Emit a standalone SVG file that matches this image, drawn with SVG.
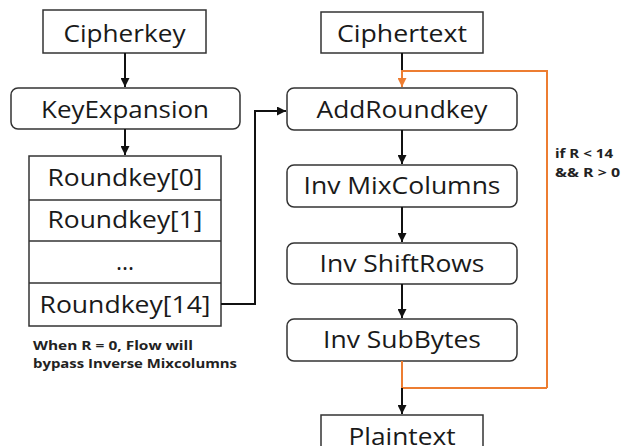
<svg xmlns="http://www.w3.org/2000/svg" width="621" height="446" viewBox="0 0 621 446">
<defs>
<marker id="ab" viewBox="0 0 10 10" refX="10" refY="5" markerWidth="4.5" markerHeight="4.5" orient="auto" markerUnits="strokeWidth"><path d="M0,0 L10,5 L0,10 z" fill="#111"/></marker>
<marker id="ao" viewBox="0 0 10 10" refX="10" refY="5" markerWidth="4.5" markerHeight="4.5" orient="auto" markerUnits="strokeWidth"><path d="M0,0 L10,5 L0,10 z" fill="#ED7D31"/></marker>
</defs>
<style>
.box{fill:#fff;stroke:#333;stroke-width:1.5}
.t{font-family:"Open Sans","Noto Sans",sans-serif;font-size:23px;fill:#1a1a1a;text-anchor:middle}
.b{font-family:"Open Sans","Noto Sans",sans-serif;font-size:13px;font-weight:bold;fill:#222}
.c{fill:none;stroke:#111;stroke-width:2}
.o{fill:none;stroke:#ED7D31;stroke-width:2}
</style>
<rect width="621" height="446" fill="#fff"/>
<g id="cipherkey"><rect class="box" x="43" y="10" width="163" height="43"/><text class="t" x="124.5" y="42" textLength="122" lengthAdjust="spacingAndGlyphs">Cipherkey</text></g>
<g id="keyexpansion"><rect class="box" x="11" y="88" width="229" height="41" rx="7"/><text class="t" x="125" y="118" textLength="168" lengthAdjust="spacingAndGlyphs">KeyExpansion</text></g>
<g id="roundkeys">
<rect class="box" x="29" y="156" width="192" height="170"/>
<line x1="29" y1="200" x2="221" y2="200" stroke="#333" stroke-width="1.5"/>
<line x1="29" y1="241" x2="221" y2="241" stroke="#333" stroke-width="1.5"/>
<line x1="29" y1="283" x2="221" y2="283" stroke="#333" stroke-width="1.5"/>
<text class="t" x="125" y="186" textLength="155" lengthAdjust="spacingAndGlyphs">Roundkey[0]</text>
<text class="t" x="125" y="228" textLength="155" lengthAdjust="spacingAndGlyphs">Roundkey[1]</text>
<text class="t" x="125" y="270">...</text>
<text class="t" x="125" y="313" textLength="171" lengthAdjust="spacingAndGlyphs">Roundkey[14]</text>
</g>
<g id="note"><text class="b" x="33" y="350" textLength="160" lengthAdjust="spacingAndGlyphs">When R = 0, Flow will</text><text class="b" x="33" y="368" textLength="204" lengthAdjust="spacingAndGlyphs">bypass Inverse Mixcolumns</text></g>
<g id="ciphertext"><rect class="box" x="321" y="12" width="162" height="41"/><text class="t" x="402" y="42" textLength="130" lengthAdjust="spacingAndGlyphs">Ciphertext</text></g>
<g id="addroundkey"><rect class="box" x="287" y="88" width="230" height="42" rx="7"/><text class="t" x="402" y="118" textLength="171" lengthAdjust="spacingAndGlyphs">AddRoundkey</text></g>
<g id="invmixcolumns"><rect class="box" x="287" y="165" width="230" height="42" rx="7"/><text class="t" x="402" y="194" textLength="197" lengthAdjust="spacingAndGlyphs">Inv MixColumns</text></g>
<g id="invshiftrows"><rect class="box" x="287" y="243" width="230" height="41" rx="7"/><text class="t" x="402" y="272" textLength="165" lengthAdjust="spacingAndGlyphs">Inv ShiftRows</text></g>
<g id="invsubbytes"><rect class="box" x="287" y="319" width="230" height="42" rx="7"/><text class="t" x="402" y="348" textLength="158" lengthAdjust="spacingAndGlyphs">Inv SubBytes</text></g>
<g id="plaintext"><rect class="box" x="321" y="415" width="162" height="45"/><text class="t" x="402" y="445" textLength="107" lengthAdjust="spacingAndGlyphs">Plaintext</text></g>
<g id="loop-label"><text class="b" x="555" y="158" textLength="58" lengthAdjust="spacingAndGlyphs">if R &lt; 14</text><text class="b" x="555" y="177" textLength="65" lengthAdjust="spacingAndGlyphs">&amp;&amp; R &gt; 0</text></g>
<g id="connectors">
<path class="c" d="M125,53 V87" marker-end="url(#ab)"/>
<path class="c" d="M125,129 V155" marker-end="url(#ab)"/>
<path class="c" d="M221,304 H255 V111 H286" marker-end="url(#ab)"/>
<path class="c" d="M402,53 V71"/>
<path class="o" d="M547,388 V71 H402 V87" marker-end="url(#ao)"/>
<path class="c" d="M402,130 V164" marker-end="url(#ab)"/>
<path class="c" d="M402,207 V242" marker-end="url(#ab)"/>
<path class="c" d="M402,284 V318" marker-end="url(#ab)"/>
<path class="o" d="M402,361 V388 H547"/>
<path class="c" d="M402,388 V414" marker-end="url(#ab)"/>
</g>
</svg>
